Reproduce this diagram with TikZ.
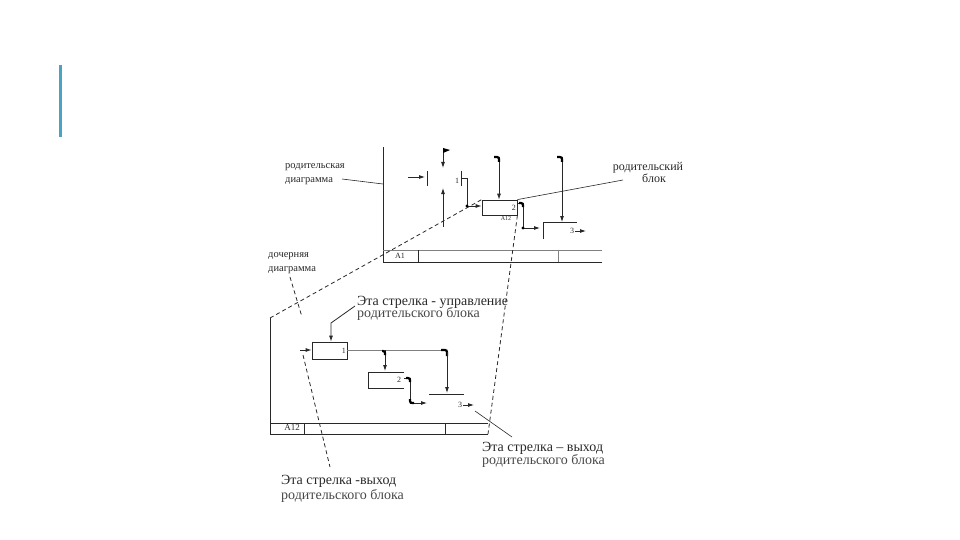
\documentclass[tikz,border=0pt]{standalone}
\usepackage{fontspec}
\setmainfont{Liberation Serif}
\usetikzlibrary{arrows.meta}
\definecolor{barblue}{RGB}{75,163,196}
\definecolor{inkgray}{RGB}{40,40,40}

\begin{document}
\begin{tikzpicture}[x=1pt,y=-1pt,
  line/.style={draw=inkgray, line width=0.8pt},
  arr/.style={line, -{Latex[length=6pt,width=4pt]}},
  leader/.style={draw=inkgray, line width=0.8pt, dashed, dash pattern=on 4pt off 3pt},
  corner/.style={draw=black, line width=2.2pt, rounded corners=2pt},
  note/.style={font=\fontsize{10.5}{13.5}\selectfont, text=inkgray, inner sep=0pt, align=left},
  big/.style={font=\fontsize{14}{12}\selectfont, text=inkgray, inner sep=0pt, anchor=west},
  small/.style={font=\fontsize{14}{12}\selectfont, text=inkgray!85, inner sep=0pt, anchor=west},
  tag/.style={font=\fontsize{8}{8}\selectfont, text=inkgray, inner sep=0pt}]
  \useasboundingbox (0,0) rectangle (960,540);
  \fill[barblue] (59,65) rectangle (62,137);

  % parent diagram
  \coordinate (pTL) at (383,147);
  \coordinate (pBL) at (383,262);
  \coordinate (pBR) at (602,262);
  \draw[line] (pTL) -- (pBL) -- (pBR);
  \draw[line, draw=gray] (383,250) -- (602,250);
  \draw[line] (418,250) -- (418,262);
  \draw[line, draw=gray] (558,250) -- (558,262);
  \node[tag] (pnum) at (400,256) {A1};

  \coordinate (in0) at (408,177);
  \coordinate (in1) at (425,177);
  \draw[arr] (in0) -- (in1);
  \draw[line] (427,171) -- (427,186);
  \coordinate (c0) at (443,150);
  \coordinate (c1) at (443,168);
  \draw[arr] (c0) -- (c1);
  \fill[black] (443,148) -- (450,150) -- (443,153) -- cycle;
  \coordinate (u0) at (443,227);
  \coordinate (u1) at (443,188);
  \draw[arr] (u0) -- (u1);
  \node[tag] (p1) at (457,181) {1};
  \draw[line] (461,171) -- (461,186);

  \node[draw=inkgray, line width=0.8pt, minimum width=35pt, minimum height=15pt,
    inner sep=0pt] (pblk) at (499.5,207.5) {};
  \node[tag, anchor=east] (p2) at (516,208) {2};
  \node[tag, font=\fontsize{6}{6}\selectfont] (pa12) at (506,219) {A12};
  \draw[arr] (461,178) -- (467,178) -- (467,206) -- (pblk.west |- 0,206);
  \fill[black] (467,206) circle (1.6pt);
  \coordinate (pc2) at (499,157);
  \draw[arr] (pc2) -- (pblk.north -| pc2);
  \draw[corner] (494,157) -- (499,157) -- (499,162);

  \coordinate (po0) at (517,203);
  \coordinate (po1) at (540,228);
  \draw[arr] (po0) -- (523,203) -- (523,228) -- (po1);
  \draw[corner] (519,203) -- (523,203) -- (523,207);
  \fill[black] (523,228) circle (1.6pt);
  \coordinate (b3L) at (543,239);
  \coordinate (b3T) at (543,222);
  \coordinate (b3R) at (577,222);
  \draw[line] (b3L) -- (b3T) -- (b3R);
  \node[tag] (p3) at (572,231) {3};
  \draw[arr] (575,231) -- (586,231);
  \coordinate (pc3) at (562,157);
  \draw[arr] (pc3) -- (562,222);
  \draw[corner] (557,157) -- (562,157) -- (562,162);

  \node[note, anchor=west] (pdiag) at (285,174) {родительская\\диаграмма};
  \draw[line, line width=0.6pt] (342,179) -- (pTL |- 0,184);
  \node[note, align=center, font=\fontsize{12}{12}\selectfont] (pblock) at (648,172)
    {родительский\\\hspace*{12pt}блок};
  \draw[line, line width=0.6pt] (623,180) -- (pblk.north east);

  % child diagram
  \coordinate (cTL) at (270,318);
  \coordinate (cBL) at (270,434);
  \coordinate (cBR) at (488,434);
  \draw[line] (cTL) -- (cBL) -- (cBR);
  \draw[line] (270,423) -- (488,423);
  \draw[line] (304,423) -- (304,434);
  \draw[line] (445,423) -- (445,434);
  \node[tag, font=\fontsize{9}{9}\selectfont] (cnum) at (292,428) {A12};

  \draw[leader] (cTL) -- (pblk.north west);
  \draw[leader] (pblk.south east) -- (cBR);

  \node[draw=inkgray, line width=0.8pt, minimum width=35pt, minimum height=17pt,
    inner sep=0pt] (cb1) at (329.5,350.5) {};
  \node[tag, anchor=east] (c1lab) at (346,351) {1};
  \coordinate (cin) at (300,350);
  \draw[arr] (cin) -- (cb1.west |- cin);
  \coordinate (cctl) at (331,323);
  \draw[arr] (355,306) -- (cctl) -- (cb1.north -| cctl);

  \draw[line, draw=gray] (cb1.east |- 0,350) -- (443,350);
  \draw[corner] (441,350) -- (447,350) -- (447,356);
  \draw[arr] (447,352) -- (447,393);
  \draw[arr] (385,350) -- (385,371);
  \draw[corner] (382,351) -- (385,351) -- (385,355);

  \draw[line] (404,372) -- (368,372) -- (368,388) -- (404,388);
  \node[tag] (c2lab) at (399,380) {2};
  \coordinate (co2) at (427,403);
  \draw[arr] (404,378) -- (410,378) -- (410,403) -- (co2);
  \draw[corner] (406,378) -- (410,378) -- (410,382);
  \draw[corner] (410,399) -- (410,403) -- (414,403);

  \draw[line] (429,394) -- (464,394);
  \node[tag] (c3lab) at (460,405) {3};
  \draw[arr] (463,405) -- (474,405);

  \node[big] (ctrl) at (357,302) {Эта стрелка - управление};
  \node[small] (ctrl2) at (357,314) {родительского блока};
  \node[big] (out1) at (482,448) {Эта стрелка – выход};
  \node[small] (out12) at (482,461) {родительского блока};
  \node[big] (out2) at (281,481) {Эта стрелка -выход};
  \node[small] (out22) at (281,496) {родительского блока};
  \node[note, anchor=west] (cdiag) at (268,263) {дочерняя\\диаграмма};

  \draw[line, line width=0.6pt] (475,411) -- (512,437);
  \draw[leader] (303,355) -- (330,467);
  \draw[leader] (290,277) -- (302,317);
\end{tikzpicture}
\end{document}
